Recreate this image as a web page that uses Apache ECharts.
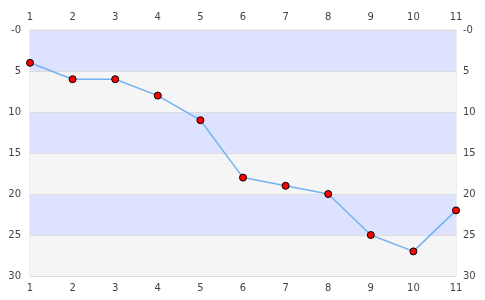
<!DOCTYPE html>
<html><head><meta charset="utf-8">
<script src="https://cdn.jsdelivr.net/npm/echarts@6/dist/echarts.min.js"></script>
<style>html,body{margin:0;padding:0;background:#fff}#c{width:485px;height:300px}</style>
</head><body><div id="c"></div>
<script>
var categories = ['1','2','3','4','5','6','7','8','9','10','11'];
var values = [4, 6, 6, 8, 11, 18, 19, 20, 25, 27, 22];
var yTicks = [0, 5, 10, 15, 20, 25, 30];
var yTickLabels = ['-0', '5', '10', '15', '20', '25', '30'];

var chart = echarts.init(document.getElementById('c'));
var font = {fontFamily: 'DejaVu Sans', fontSize: 10, color: '#444'};
function yLab(v){ var i = yTicks.indexOf(v); return i >= 0 ? yTickLabels[i] : String(v); }
function xAxis(pos, m){
  return {type:'category', data:categories, position:pos, boundaryGap:false,
    axisLine:{show:false}, axisTick:{show:false}, splitLine:{show:false},
    axisLabel:Object.assign({margin:m}, font)};
}
function yAxis(pos, split, m){
  return {type:'value', inverse:true, min:0, max:30, interval:5, position:pos,
    axisLine:{show:false}, axisTick:{show:false},
    splitLine:{show:split, lineStyle:{color:'#dddddd'}},
    splitArea:{show:split, areaStyle:{color:['#dde3ff','#f5f5f5']}},
    axisLabel:Object.assign({margin:m, formatter:yLab}, font)};
}
chart.setOption({
  animation:false,
  grid:{left:30, right:29, top:30, bottom:24, show:true, borderColor:'#dddddd', borderWidth:1},
  xAxis:[xAxis('bottom', 7), xAxis('top', 8)],
  yAxis:[yAxis('left', true, 9), yAxis('right', false, 7)],
  series:[{type:'line', data:values, xAxisIndex:0, yAxisIndex:0,
    symbol:'circle', symbolSize:7,
    lineStyle:{color:'#72b2f2', width:1.5},
    itemStyle:{color:'#ff0000', borderColor:'#000', borderWidth:1}}]
});
</script></body></html>
